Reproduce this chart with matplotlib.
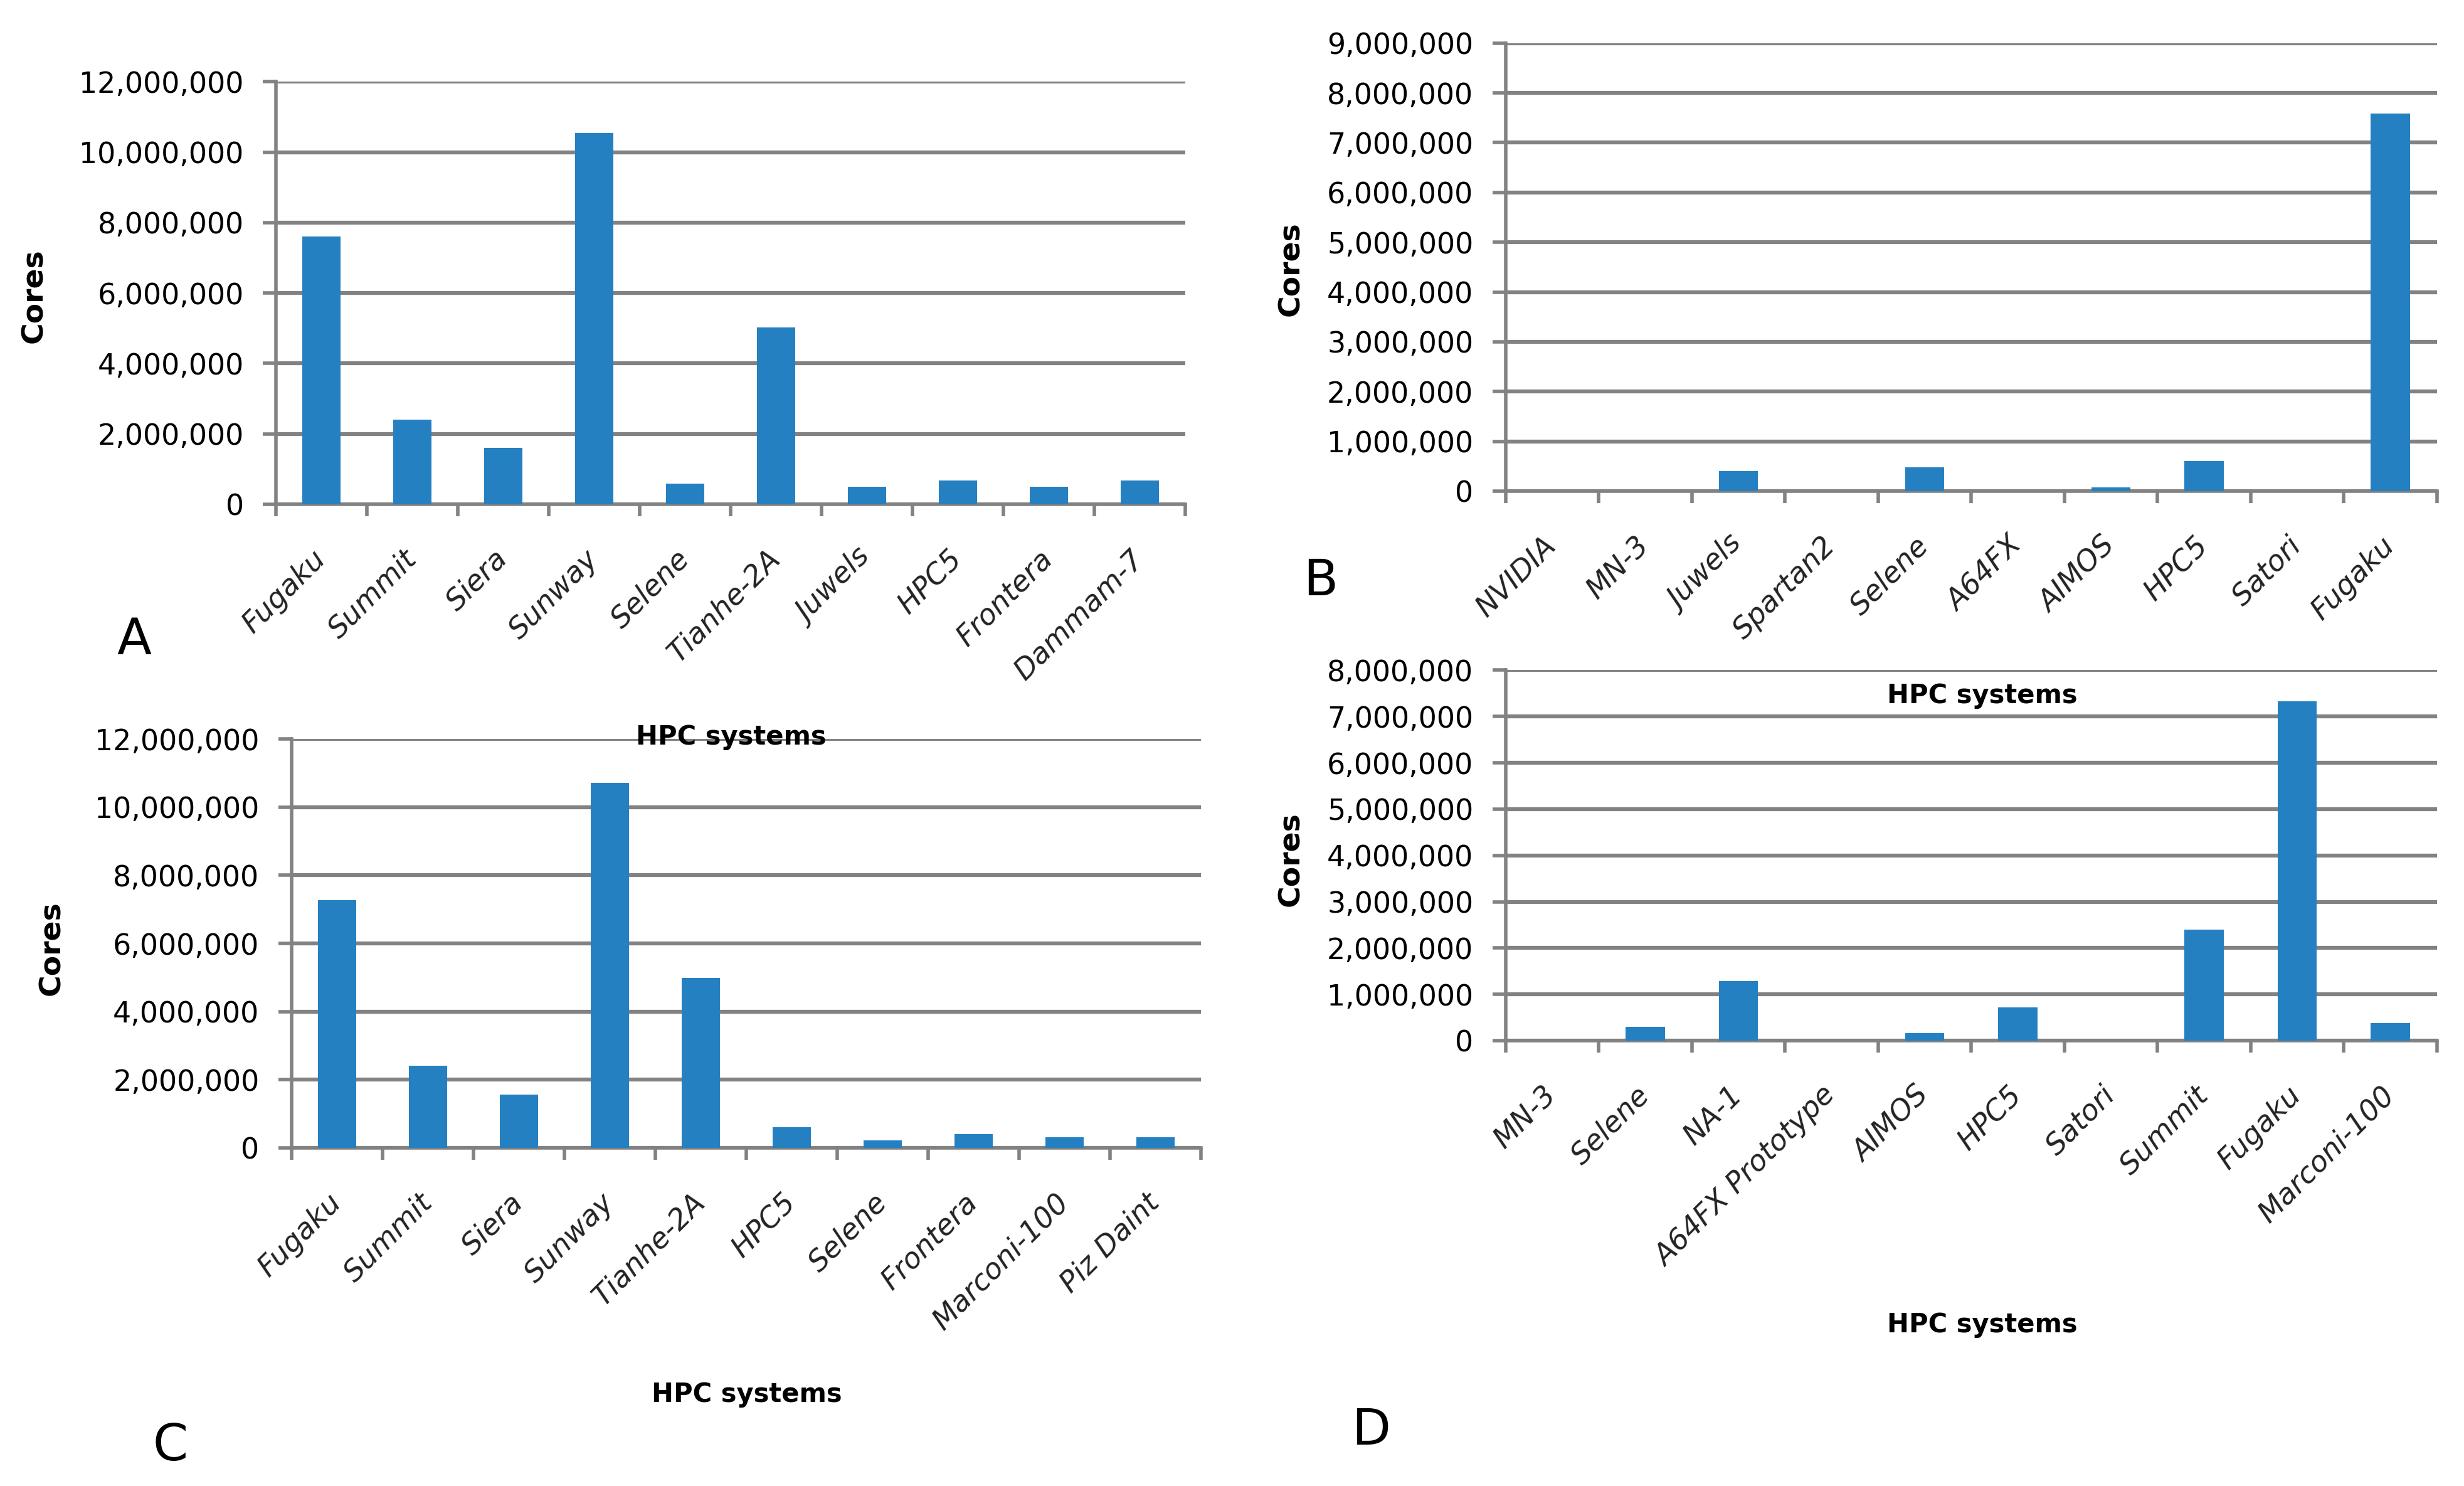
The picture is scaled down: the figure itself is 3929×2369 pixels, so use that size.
import matplotlib
matplotlib.use('Agg')
import matplotlib.pyplot as plt
from matplotlib.ticker import FuncFormatter

# panel A
names_a = ['Fugaku', 'Summit', 'Siera', 'Sunway', 'Selene', 'Tianhe-2A',
           'Juwels', 'HPC5', 'Frontera', 'Dammam-7']
cores_a = [7600000, 2410000, 1600000, 10550000, 590000, 5020000,
           490000, 680000, 490000, 680000]

# panel B
names_b = ['NVIDIA', 'MN-3', 'Juwels', 'Spartan2', 'Selene', 'A64FX',
           'AIMOS', 'HPC5', 'Satori', 'Fugaku']
cores_b = [0, 0, 400000, 0, 480000, 0, 80000, 610000, 0, 7580000]

# panel C
names_c = ['Fugaku', 'Summit', 'Siera', 'Sunway', 'Tianhe-2A', 'HPC5',
           'Selene', 'Frontera', 'Marconi-100', 'Piz Daint']
cores_c = [7270000, 2420000, 1560000, 10710000, 4990000, 610000,
           230000, 410000, 310000, 310000]

# panel D
names_d = ['MN-3', 'Selene', 'NA-1', 'A64FX Prototype', 'AIMOS', 'HPC5',
           'Satori', 'Summit', 'Fugaku', 'Marconi-100']
cores_d = [0, 300000, 1290000, 0, 160000, 720000, 0, 2400000, 7330000, 380000]

BLUE = '#2580c2'
GRID = '#828282'

fig = plt.figure(figsize=(39.29, 23.69), dpi=100)


def panel(rect, names, vals, ymax, ystep):
    ax = fig.add_axes(rect)
    x = range(len(names))
    ax.bar(x, vals, width=0.42, color=BLUE, zorder=3)
    ax.set_xlim(-0.5, len(names) - 0.5)
    ax.set_ylim(0, ymax)
    ax.set_yticks(range(0, ymax + 1, ystep))
    ax.yaxis.set_major_formatter(FuncFormatter(lambda v, p: f'{v:,.0f}'))
    ax.grid(axis='y', color=GRID, linewidth=4.5, zorder=0)
    ax.set_axisbelow(True)
    for s in ['top', 'right']:
        ax.spines[s].set_visible(False)
    for s in ['left', 'bottom']:
        ax.spines[s].set_color(GRID)
        ax.spines[s].set_linewidth(4)
    ax.tick_params(axis='y', length=15, width=4, color=GRID, pad=22,
                   labelsize=33)
    ax.set_xticks(list(x))
    ax.set_xticklabels(names, rotation=45, ha='right', va='center',
                       rotation_mode='anchor', fontsize=33, style='italic',
                       color='#222222')
    ax.tick_params(axis='x', which='major', length=0, pad=58)
    ax.set_xticks([i - 0.5 for i in range(len(names) + 1)], minor=True)
    ax.tick_params(axis='x', which='minor', length=14, width=4, color=GRID)
    return ax


panel([0.112, 0.6607, 0.369, 0.2843], names_a, cores_a, 12000000, 2000000)
panel([0.611, 0.6695, 0.378, 0.3015], names_b, cores_b, 9000000, 1000000)
panel([0.1183, 0.2275, 0.3691, 0.2752], names_c, cores_c, 12000000, 2000000)
panel([0.611, 0.2997, 0.378, 0.2493], names_d, cores_d, 8000000, 1000000)

# axis titles
for xx, yy in [(0.014, 0.801), (0.524, 0.819), (0.021, 0.362), (0.524, 0.422)]:
    fig.text(xx, yy, 'Cores', rotation=90, ha='center', va='center',
             fontsize=34, fontweight='semibold')
for xx, yy in [(0.2968, 0.504), (0.8045, 0.532), (0.303, 0.0617), (0.8045, 0.1085)]:
    fig.text(xx, yy, 'HPC systems', ha='center', va='center',
             fontsize=30, fontweight='bold')

# panel letters
for lab, xx, yy in [('A', 0.0545, 0.569), ('B', 0.536, 0.6085),
                    ('C', 0.0692, 0.0266), ('D', 0.5564, 0.0372)]:
    fig.text(xx, yy, lab, ha='center', va='center', fontsize=58)

fig.savefig('out.png', dpi=100)
